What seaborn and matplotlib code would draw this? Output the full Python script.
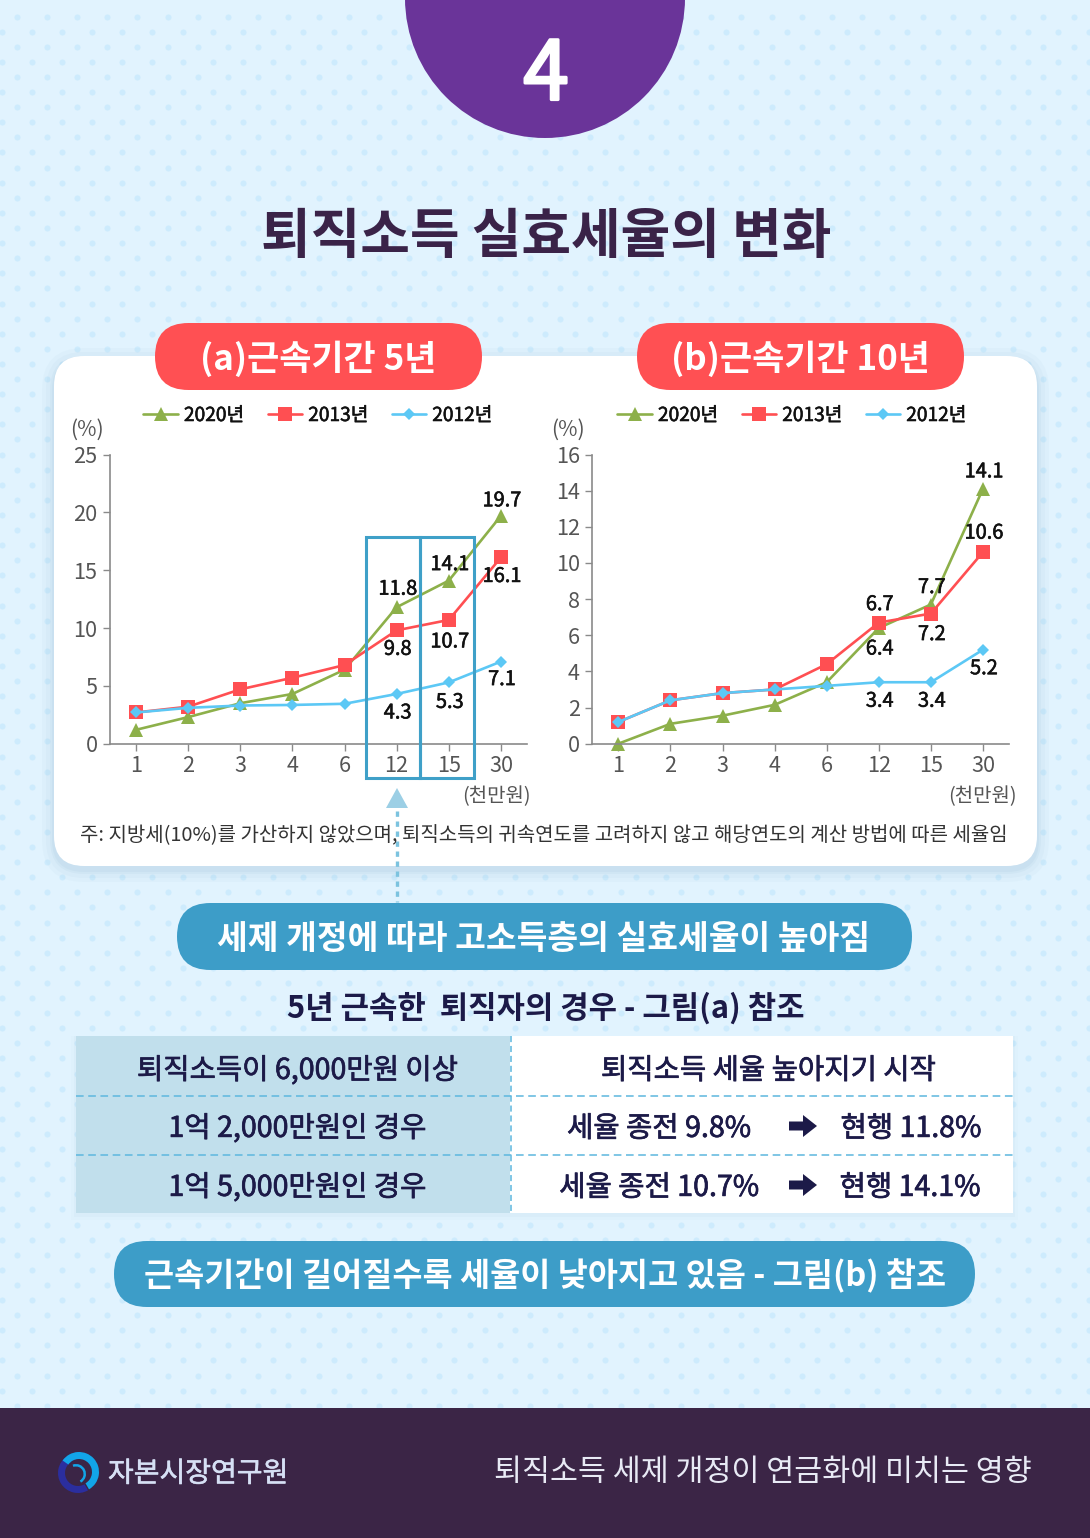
import matplotlib
matplotlib.use("Agg")
import matplotlib.patheffects as pe
import matplotlib.pyplot as plt
import numpy as np
import pandas as pd
import seaborn as sns
from matplotlib.patches import Circle, FancyArrow, FancyBboxPatch, Polygon, Rectangle, Wedge

W, H = 1090, 1538
KR = ["Noto Sans CJK KR", "DejaVu Sans"]

# data
income = ["1", "2", "3", "4", "6", "12", "15", "30"]
years = ["2020년", "2013년", "2012년"]
a_2020 = [1.2, 2.3, 3.5, 4.3, 6.4, 11.8, 14.1, 19.7]
a_2013 = [2.7, 3.2, 4.7, 5.7, 6.8, 9.8, 10.7, 16.1]
a_2012 = [2.7, 3.1, 3.3, 3.35, 3.45, 4.3, 5.3, 7.1]
b_2020 = [0.0, 1.1, 1.55, 2.15, 3.4, 6.4, 7.7, 14.1]
b_2013 = [1.2, 2.4, 2.8, 3.0, 4.4, 6.7, 7.2, 10.6]
b_2012 = [1.2, 2.4, 2.8, 3.0, 3.2, 3.4, 3.4, 5.2]
a_ticks = [0, 5, 10, 15, 20, 25]
b_ticks = [0, 2, 4, 6, 8, 10, 12, 14, 16]
table_left = ["퇴직소득이 6,000만원 이상", "1억 2,000만원인 경우", "1억 5,000만원인 경우"]
table_old = ["세율 종전 9.8%", "세율 종전 10.7%"]
table_new = ["현행 11.8%", "현행 14.1%"]

# which points get a label, and how far off the point (px, + is down)
a_labels = {0: [(5, -18), (6, -16), (7, -15)], 1: [(5, 19), (6, 22), (7, 19)], 2: [(5, 19), (6, 20), (7, 18)]}
b_labels = {0: [(5, 21), (6, -17), (7, -17)], 1: [(5, -18), (6, 21), (7, -19)], 2: [(5, 19), (6, 19), (7, 19)]}

colors = {"2020년": "#8DB04A", "2013년": "#FF4F52", "2012년": "#5CC8F5"}
markers = {"2020년": "^", "2013년": "s", "2012년": "D"}
msize = {"2020년": 9.4, "2013년": 9.4, "2012년": 6.4}
DARK = "#1C1A48"
MEDIUM = [pe.withStroke(linewidth=0.4, foreground="#111111")]

sns.set_theme(style="white")
plt.rcParams["font.family"] = KR
plt.rcParams["axes.unicode_minus"] = False

fig = plt.figure(figsize=(W / 100, H / 100), dpi=100, facecolor="#E1F3FE")


def px_axes(z):
    a = fig.add_axes([0, 0, 1, 1], zorder=z)
    a.set_xlim(0, W)
    a.set_ylim(H, 0)
    a.axis("off")
    a.patch.set_alpha(0)
    return a


def txt(a, x, y, s, size, color="#222222", weight="normal", ha="center", stroke=0, zorder=4):
    t = a.text(x, y + size * 0.1, s, fontsize=size * 0.72, color=color, fontweight=weight, ha=ha, va="center",
               family=KR, zorder=zorder)
    if stroke:
        t.set_path_effects([pe.withStroke(linewidth=stroke, foreground=color)])
    return t


def pill(a, x0, y0, x1, y1, color, r=None, **kw):
    r = (y1 - y0) / 2 if r is None else r
    a.add_patch(FancyBboxPatch((x0 + r, y0 + r), x1 - x0 - 2 * r, y1 - y0 - 2 * r,
                               boxstyle=f"round,pad={r},rounding_size={r}", fc=color, ec="none", **kw))


def line_chart(rect, vals, ticks, labels, legend_x):
    ax = fig.add_axes([rect[0] / W, 1 - rect[3] / H, (rect[2] - rect[0]) / W, (rect[3] - rect[1]) / H], zorder=2)
    ax.patch.set_alpha(0)
    df = pd.DataFrame({y: v for y, v in zip(years, vals)}, index=income).rename_axis("income").reset_index()
    long = df.melt("income", var_name="year", value_name="rate")
    sns.lineplot(data=long, x="income", y="rate", hue="year", style="year", hue_order=years, style_order=years,
                 palette=colors, markers=markers, dashes=False, sort=False, errorbar=None, linewidth=1.9,
                 markeredgewidth=0, clip_on=False, ax=ax)
    ax.set_xlim(-0.5, 7.5)
    ax.set_ylim(0, ticks[-1])
    ax.set_yticks(ticks)
    ax.set_xlabel("")
    ax.set_ylabel("")
    ax.tick_params(axis="both", length=5, width=1, color="#8A8A8A", labelsize=15.6, labelcolor="#555555", bottom=True, left=True)
    ax.tick_params(axis="x", pad=3)
    ax.tick_params(axis="y", pad=4)
    for s in ("top", "right"):
        ax.spines[s].set_visible(False)
    for s in ("left", "bottom"):
        ax.spines[s].set_color("#8A8A8A")
        ax.spines[s].set_linewidth(1.2)
    handles, names = ax.get_legend_handles_labels()
    for ln, y in zip(ax.lines, years):
        ln.set_markersize(msize[y])
    for h, y in zip(handles, years):
        h.set_marker(markers[y])
        h.set_markersize(msize[y])
        h.set_markeredgewidth(0)
        h.set_color(colors[y])
        h.set_linewidth(1.9)
    leg = ax.legend(handles, names, ncol=3, frameon=False, loc="center", bbox_to_anchor=(legend_x / W, 1 - 415.5 / H),
                    bbox_transform=fig.transFigure, fontsize=13.8, handlelength=1.8, handletextpad=0.32,
                    columnspacing=1.2, borderpad=0, borderaxespad=0)
    for t in leg.get_texts():
        t.set_color("#111111")
        t.set_path_effects(MEDIUM)
    for i, pts in labels.items():
        for idx, dy in pts:
            ann = ax.annotate(f"{vals[i][idx]:.1f}", (idx, vals[i][idx]), xytext=(1, -dy), textcoords="offset pixels",
                              ha="center", va="center", fontsize=14.4, color="#111111", annotation_clip=False, zorder=6)
            ann.set_path_effects(MEDIUM)
    return ax


bg = px_axes(0)

# dotted background
xs, ys = np.meshgrid(np.arange(16.6, W + 30, 30.2), np.arange(16.6, H, 30.2))
bg.scatter(np.r_[xs.ravel(), xs.ravel() - 15.1], np.r_[ys.ravel(), ys.ravel() + 15.1], s=19, c="#CDEBFD", linewidths=0)

# header
bg.add_patch(Circle((545, -2), 140, fc="#6A3499", ec="none"))
txt(bg, 546, 68, "4", 82, "white", stroke=2.0)
txt(bg, 546, 232, "퇴직소득 실효세율의 변화", 54, "#3A2348", "bold")

# card with soft shadow
for grow, alpha in [(12, 0.03), (8, 0.04), (4, 0.05), (2, 0.06)]:
    pill(bg, 54 - grow, 356 - grow + 4, 1037 + grow, 866 + grow + 4, "#6090B0", r=30 + grow, alpha=alpha)
pill(bg, 54, 356, 1037, 866, "white", r=30)
pill(bg, 155, 323, 482, 390, "#FF5053")
pill(bg, 637, 323, 964, 390, "#FF5053")
txt(bg, 318, 355, "(a)근속기간 5년", 35, "white", "bold")
txt(bg, 800, 355, "(b)근속기간 10년", 35, "white", "bold")

# the two charts
line_chart((110, 454.5, 527, 743.7), [a_2020, a_2013, a_2012], a_ticks, a_labels, 318)
line_chart((592.3, 454.5, 1009, 743.7), [b_2020, b_2013, b_2012], b_ticks, b_labels, 792)

top = px_axes(5)
for x, unit_x in [(87, 496), (568, 982)]:
    txt(top, x, 428, "(%)", 21, "#555555")
    txt(top, unit_x, 795, "(천만원)", 20, "#555555")
txt(top, 544, 834, "주: 지방세(10%)를 가산하지 않았으며, 퇴직소득의 귀속연도를 고려하지 않고 해당연도의 계산 방법에 따른 세율임", 20, "#333333")

# highlight boxes and pointer
for x0 in (366, 420):
    top.add_patch(Rectangle((x0, 537), 54, 241, fc="none", ec="#3FA0C8", lw=2.2))
top.add_patch(Polygon([(397, 788), (386, 808), (408, 808)], fc="#9CCFE5", ec="none"))
top.plot([397, 397], [811, 902], color="#7CC3DF", lw=2.4, ls=(0, (1.6, 1.4)))

pill(bg, 177, 903, 912, 970, "#3D9DC8")
txt(bg, 544, 936, "세제 개정에 따라 고소득층의 실효세율이 높아짐", 33.4, "white", "bold")
txt(bg, 546, 1005, "5년 근속한  퇴직자의 경우 - 그림(a) 참조", 30.9, DARK, "bold")

# table
for grow, alpha in [(5, 0.02), (2, 0.04)]:
    bg.add_patch(Rectangle((76 - grow, 1036), 937 + 2 * grow, 177 + grow + 2, fc="#6090B0", ec="none", alpha=alpha))
bg.add_patch(Rectangle((76, 1036), 434, 177, fc="#C1DFEC", ec="none"))
bg.add_patch(Rectangle((510, 1036), 503, 177, fc="white", ec="none"))
for y in (1096, 1155):
    bg.plot([76, 1013], [y, y], color="#5DB7DE", lw=1.1, ls=(0, (5, 3)))
bg.plot([510.5, 510.5], [1036, 1213], color="#5DB7DE", lw=1.1, ls=(0, (4, 2.5)))
for y, s in zip((1068, 1126, 1185), table_left):
    txt(bg, 297, y, s, 28.6, DARK, stroke=0.5)
txt(bg, 768, 1068, "퇴직소득 세율 높아지기 시작", 28.6, DARK, stroke=0.5)
for y, old, new, ox, nx in zip((1126, 1185), table_old, table_new, (659, 659), (911, 910)):
    txt(bg, ox, y, old, 28.6, DARK, stroke=0.5)
    txt(bg, nx, y, new, 28.6, DARK, stroke=0.5)
    bg.add_patch(FancyArrow(789, y, 28, 0, width=9, head_width=22, head_length=14, length_includes_head=True, fc=DARK, ec="none"))

pill(bg, 114, 1241, 975, 1307, "#3D9DC8")
txt(bg, 545, 1273, "근속기간이 길어질수록 세율이 낮아지고 있음 - 그림(b) 참조", 32.7, "white", "bold")

# footer
bg.add_patch(Rectangle((0, 1408), W, 130, fc="#3B2546", ec="none", zorder=3))
bg.add_patch(Wedge((78, 1473), 20, 60, 235, width=7, fc="#2B2E9E", ec="none", zorder=4))
bg.add_patch(Wedge((79, 1472), 20, 215, 420, width=7, fc="#12A5E8", ec="none", zorder=4))
bg.add_patch(Wedge((76, 1474), 10, 250, 60, width=2.5, fc="#12A5E8", ec="none", zorder=4))
txt(bg, 108, 1471, "자본시장연구원", 28, "#D6E0F5", ha="left", stroke=0.4)
txt(bg, 1032, 1469, "퇴직소득 세제 개정이 연금화에 미치는 영향", 30.4, "#E8EAF5", ha="right")

fig.savefig("out.png", dpi=100, facecolor=fig.get_facecolor())
